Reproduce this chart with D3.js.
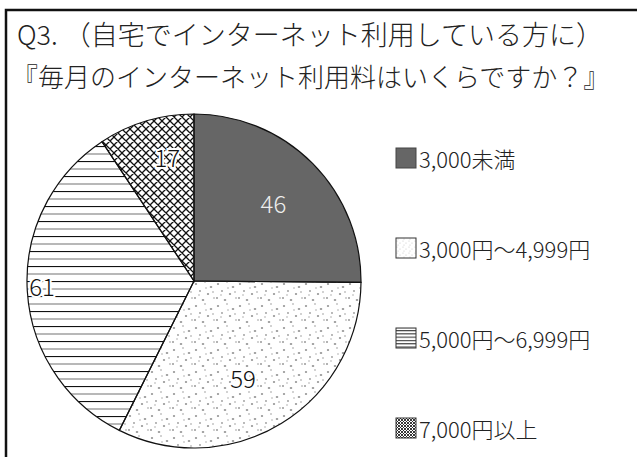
<!DOCTYPE html>
<html><head><meta charset="utf-8">
<script src="https://cdn.jsdelivr.net/npm/d3@7"></script>
<style>body{margin:0;background:#fff}svg{display:block}text{font-family:"Noto Sans CJK JP","Noto Sans",sans-serif;font-weight:300}</style>
</head><body>
<svg id="c" width="637" height="457"></svg>
<script>
const titleLines = ["Q3. （自宅でインターネット利用している方に）", "『毎月のインターネット利用料はいくらですか？』"];
const categories = ["3,000未満", "3,000円～4,999円", "5,000円～6,999円", "7,000円以上"];
const values = [46, 59, 61, 17];
const labelRadiusFrac = [0.67, 0.65, 0.91, 0.76];
const labelAngleShift = [0, 0.08, 0.03, 0.08];

const svg = d3.select("#c");
const defs = svg.append("defs");

// patterns
const pd = defs.append("pattern").attr("id","dots").attr("patternUnits","userSpaceOnUse").attr("width",22).attr("height",22);
[[2,3,1.2,0.9],[11,1,0.8,0.8],[17,6,1.3,1],[6,10,0.9,0.9],[14,13,1.2,0.9],[1,17,1,1],[9,19,1.3,0.9],[20,17,0.8,0.8],[12,7,0.7,0.7],[5,14,0.7,0.7],[19,11,0.8,0.8]].forEach(p=>{
  pd.append("ellipse").attr("cx",p[0]).attr("cy",p[1]).attr("rx",p[2]).attr("ry",p[3]).attr("fill","#999");
});
const ph = defs.append("pattern").attr("id","hlines").attr("patternUnits","userSpaceOnUse").attr("width",10).attr("height",15);
ph.append("line").attr("x1",0).attr("x2",10).attr("y1",0.5).attr("y2",0.5).attr("stroke","#111").attr("stroke-width",1.2);
ph.append("line").attr("x1",0).attr("x2",10).attr("y1",8).attr("y2",8).attr("stroke","#888").attr("stroke-width",1.2);
const pc = defs.append("pattern").attr("id","cross").attr("patternUnits","userSpaceOnUse").attr("width",8).attr("height",8);
pc.append("path").attr("d","M0,0L8,8M0,8L8,0M-1,1L1,-1M7,9L9,7M-1,7L1,9M7,-1L9,1").attr("stroke","#111").attr("stroke-width",1.3);

// legend patterns (denser)
const ld = defs.append("pattern").attr("id","ldots").attr("patternUnits","userSpaceOnUse").attr("width",6).attr("height",6);
[[1,1],[4,3],[2,5]].forEach(p=>ld.append("circle").attr("cx",p[0]).attr("cy",p[1]).attr("r",0.5).attr("fill","#bbb"));
const lh = defs.append("pattern").attr("id","lhlines").attr("patternUnits","userSpaceOnUse").attr("width",4).attr("height",3.3);
lh.append("line").attr("x1",0).attr("x2",4).attr("y1",0.6).attr("y2",0.6).attr("stroke","#222").attr("stroke-width",1);
const lc = defs.append("pattern").attr("id","lcross").attr("patternUnits","userSpaceOnUse").attr("width",3).attr("height",3);
lc.append("path").attr("d","M0,0L3,3M0,3L3,0").attr("stroke","#222").attr("stroke-width",0.9);

const fills = ["#666666","url(#dots)","url(#hlines)","url(#cross)"];
const legendFills = ["#666666","url(#ldots)","url(#lhlines)","url(#lcross)"];

// frame
svg.append("rect").attr("x",6).attr("y",10).attr("width",700).attr("height",500)
  .attr("fill","none").attr("stroke","#111").attr("stroke-width",2.5);

// title
svg.selectAll(".title").data(titleLines).join("text").attr("class","title")
  .attr("x",(d,i)=> i===0 ? 17 : 12).attr("y",(d,i)=> 45 + i*42)
  .attr("font-size",(d,i)=> i===0 ? 27 : 26).attr("fill","#222").text(d=>d);

// pie
const cx = 194, cy = 281, R = 167;
const g = svg.append("g").attr("transform",`translate(${cx},${cy})`);
const pie = d3.pie().sort(null).value(d=>d);
const arcs = pie(values);
const arc = d3.arc().innerRadius(0).outerRadius(R);
g.selectAll("path").data(arcs).join("path")
  .attr("d",arc).attr("fill",(d,i)=>fills[i]).attr("stroke","#111").attr("stroke-width",1.2);

g.selectAll("text.lbl").data(arcs).join("text").attr("class","lbl")
  .attr("transform",(d,i)=>{
    const a = (d.startAngle + d.endAngle)/2 + labelAngleShift[i], r = R*labelRadiusFrac[i];
    return `translate(${r*Math.sin(a)},${-r*Math.cos(a)})`;
  })
  .attr("text-anchor","middle").attr("dominant-baseline","central")
  .attr("font-size",24)
  .attr("fill",(d,i)=> i===0 ? "#eeeeee" : "#111")
  .attr("stroke",(d,i)=> i===0 ? "none" : "#fff").attr("stroke-width",4)
  .attr("paint-order","stroke")
  .text(d=>d.data);

// legend
const ly = d3.scalePoint().domain(categories).range([158, 428]);
const lg = svg.append("g");
lg.selectAll("rect").data(categories).join("rect")
  .attr("x",396).attr("y",d=>ly(d)-10).attr("width",20).attr("height",20)
  .attr("fill",(d,i)=>legendFills[i]).attr("stroke",(d,i)=> i===0?"#444":"#333").attr("stroke-width",1);
lg.selectAll("text").data(categories).join("text")
  .attr("x",419).attr("y",d=>ly(d)).attr("dominant-baseline","central")
  .attr("font-size",22).attr("fill","#222").text(d=>d);
</script>
</body></html>
